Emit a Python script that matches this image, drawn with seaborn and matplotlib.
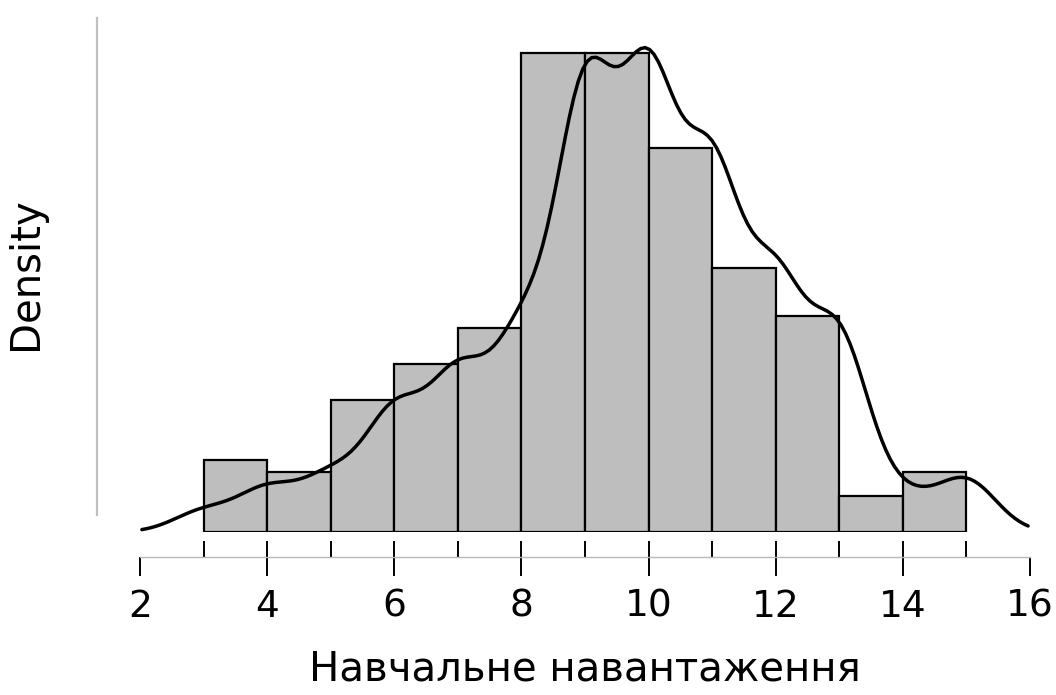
import numpy as np
import pandas as pd
import matplotlib
matplotlib.use('Agg')
import matplotlib.pyplot as plt
import seaborn as sns

# values: teaching load (integer) and how many cases
load_values = [3, 4, 5, 6, 7, 8, 9, 10, 11, 12, 13, 14, 15]
load_counts = [2, 4, 5, 11, 14, 17, 40, 40, 32, 22, 18, 3, 5]
bin_edges = list(range(3, 16))
major_ticks = [2, 4, 6, 8, 10, 12, 14, 16]
x_label = 'Навчальне навантаження'
y_label = 'Density'

raw = np.repeat(load_values, load_counts)

# right-closed bins like R's hist(), first bin includes the lower edge
binned = pd.cut(raw, bins=bin_edges, right=True, include_lowest=True)
bin_counts = pd.Series(binned).value_counts(sort=False).values
bin_mids = [(a + b) / 2 for a, b in zip(bin_edges[:-1], bin_edges[1:])]

sns.set_style('white')
plt.rcParams['font.family'] = ['DejaVu Sans']
plt.rcParams['text.color'] = 'black'
plt.rcParams['axes.labelcolor'] = 'black'
plt.rcParams['xtick.color'] = 'black'

fig = plt.figure(figsize=(10.56, 6.95), dpi=100)
ax = fig.add_axes([140/1056, (695-532)/695, 890/1056, 517/695])

sns.histplot(x=bin_mids, weights=bin_counts, bins=bin_edges, stat='density',
             color='#bebebe', alpha=1, edgecolor='black', linewidth=1.6, ax=ax)
bw = 0.47 / np.std(raw, ddof=1)
sns.kdeplot(x=raw, bw_method=bw, cut=3, clip=(2.03, 15.97), color='black',
            linewidth=2.5, ax=ax)

ax.set_xlim(2, 16)
ax.set_ylim(0, 0.2025)

for s in ['top', 'right']:
    ax.spines[s].set_visible(False)
ax.spines['bottom'].set_position(('outward', 18))
ax.spines['bottom'].set_color('#b8b8b8')
ax.spines['bottom'].set_linewidth(1.0)
ax.spines['left'].set_position(('outward', 31))
ax.spines['left'].set_color('#c0c0c0')
ax.spines['left'].set_linewidth(1.6)
ax.spines['left'].set_bounds(0.0067, 0.2013)

ax.set_xticks(major_ticks)
ax.set_xticks(bin_edges, minor=True)
ax.xaxis.remove_overlapping_locs = False
ax.tick_params(axis='x', which='major', direction='out', length=14, width=1.4,
               color='black', labelsize=27, pad=9, bottom=True)
ax.tick_params(axis='x', which='minor', direction='in', length=11.5, width=1.4,
               color='black', bottom=True)
ax.set_yticks([])

ax.set_xlabel(x_label, fontsize=29, labelpad=18)
ax.set_ylabel(y_label, fontsize=29, labelpad=37)

plt.savefig('out.png', dpi=100)
